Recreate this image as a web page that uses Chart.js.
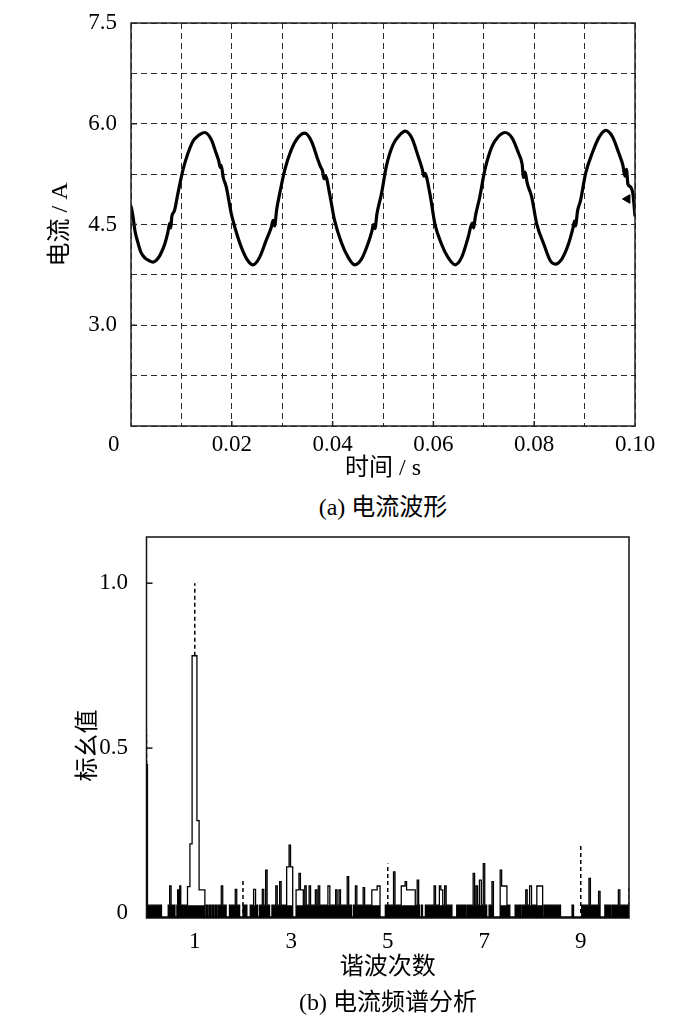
<!DOCTYPE html>
<html><head><meta charset="utf-8">
<script src="https://cdn.jsdelivr.net/npm/chart.js@4.4.1/dist/chart.umd.min.js"></script>
<style>
html,body{margin:0;padding:0;background:#fff;width:700px;height:1022px;overflow:hidden;}
#c1wrap{position:absolute;left:0;top:0;width:700px;height:490px;}
#c2wrap{position:absolute;left:0;top:520px;width:700px;height:470px;}
.cap{position:absolute;width:400px;text-align:center;font-size:24px;font-family:'Liberation Serif','Noto Sans CJK SC',serif;color:#000;line-height:28px;}
</style></head><body>
<div id="c1wrap"><canvas id="c1"></canvas></div>
<div class="cap" style="left:183px;top:493px;">(a) 电流波形</div>
<div id="c2wrap"><canvas id="c2"></canvas></div>
<div class="cap" style="left:188px;top:988px;">(b) 电流频谱分析</div>
<script>
// ---------- (a) current waveform ----------
const waveTime = [
 0.0000,0.0004,0.0008,0.0013,0.0020,0.0028,0.0034,0.0044,0.0054,0.0060,0.0067,0.0073,0.0077,0.0079,0.0081,0.0086,
 0.0093,0.0103,0.0113,0.0123,0.0133,0.0146,0.0159,0.0169,0.0174,0.0177,0.0179,0.0183,0.0189,0.0199,
 0.0206,0.0219,0.0232,0.0242,0.0255,0.0268,0.0278,0.0282,0.0285,0.0289,0.0295,0.0305,0.0318,0.0331,0.0345,
 0.0358,0.0371,0.0376,0.0380,0.0383,0.0386,0.0394,0.0404,0.0417,0.0431,0.0444,0.0457,0.0470,0.0478,0.0481,
 0.0484,0.0488,0.0497,0.0507,0.0520,0.0534,0.0544,0.0557,0.0570,0.0578,0.0581,0.0583,0.0593,0.0603,0.0616,
 0.0629,0.0643,0.0656,0.0669,0.0677,0.0680,0.0683,0.0692,0.0702,0.0716,0.0729,0.0742,0.0756,0.0769,0.0776,
 0.0779,0.0782,0.0786,0.0795,0.0805,0.0819,0.0832,0.0842,0.0855,0.0868,0.0877,0.0880,0.0882,0.0886,0.0892,
 0.0902,0.0915,0.0928,0.0942,0.0955,0.0968,0.0976,0.0980,0.0983,0.0986,0.0991,0.0996,0.1000
];
const waveCurrent = [
 4.78,4.62,4.40,4.25,4.08,4.00,3.97,3.94,4.00,4.08,4.21,4.38,4.52,4.45,4.62,4.70,
 4.96,5.31,5.56,5.74,5.82,5.87,5.77,5.56,5.45,5.35,5.38,5.20,5.06,4.66,
 4.46,4.16,3.96,3.90,4.01,4.26,4.45,4.56,4.48,4.72,4.96,5.31,5.61,5.79,5.86,
 5.74,5.46,5.36,5.30,5.18,5.22,4.96,4.56,4.24,4.01,3.90,3.98,4.21,4.40,4.50,
 4.44,4.66,4.96,5.38,5.69,5.84,5.89,5.79,5.51,5.32,5.22,5.26,4.96,4.51,4.21,
 4.01,3.90,4.01,4.31,4.52,4.45,4.61,4.91,5.31,5.66,5.81,5.87,5.79,5.56,5.40,
 5.20,5.28,5.12,4.91,4.51,4.21,3.96,3.91,3.99,4.21,4.45,4.55,4.48,4.70,4.86,
 5.26,5.56,5.79,5.90,5.81,5.56,5.38,5.22,5.32,5.10,5.06,4.95,4.62
];
const endMarkTime = [0.0985];
const endMarkCurrent = [4.88];
const waveTimeTicks  = [0,0.01,0.02,0.03,0.04,0.05,0.06,0.07,0.08,0.09,0.10];
const waveTimeLabels = ['0      ','','0.02','','0.04','','0.06','','0.08','','0.10'];
const waveCurrentTicks  = [1.5,2.25,3.0,3.75,4.5,5.25,6.0,6.75,7.5];
const waveCurrentLabels = ['','','3.0','','4.5','','6.0','','7.5'];

// ---------- (b) current spectrum ----------
const specStart = [
 0.00,0.02,0.31,0.45,0.48,0.51,0.59,0.63,0.645,0.67,0.69,0.71,0.74,0.76,0.85,0.90,0.945,1.045,1.09,
 1.21,1.24,1.27,1.30,1.33,1.36,1.39,1.42,1.45,1.48,1.55,1.58,1.65,1.72,1.84,1.87,1.93,
 2.00,2.08,2.15,2.22,2.26,2.30,2.34,2.40,2.43,2.47,2.50,2.55,2.60,2.68,2.71,2.76,2.79,2.88,2.905,2.955,2.985,
 3.03,3.10,3.16,3.19,3.25,3.28,3.31,3.37,3.40,3.50,3.53,3.56,3.59,3.76,3.80,3.92,3.95,3.99,
 4.02,4.16,4.19,4.25,4.29,4.33,4.36,4.49,4.52,4.67,4.78,4.84,4.95,
 5.12,5.15,5.28,5.36,5.39,5.57,5.61,5.64,5.66,5.70,5.72,5.78,5.96,5.99,
 6.07,6.10,6.14,6.18,6.21,6.33,6.43,6.61,6.64,6.77,6.80,6.83,6.86,6.90,6.94,6.98,
 7.01,7.05,7.10,7.16,7.19,7.33,7.36,7.47,7.53,7.64,7.75,7.78,7.86,7.89,7.94,7.98,
 8.09,8.21,8.24,8.58,8.82,8.85,
 9.02,9.17,9.20,9.37,9.40,9.50,9.63,9.66,9.78,9.81
];
const specLevel = [
 0.45,0.024,-0.012,0.024,0.082,0.024,-0.012,0.024,0.07,0.024,0.082,0.024,-0.012,0.024,0.08,0.21,0.78,0.28,0.07,
 -0.012,0.024,-0.012,0.024,-0.012,0.024,-0.012,0.024,-0.012,0.024,0.082,0.024,-0.012,0.024,0.072,0.024,-0.012,
 0.024,-0.012,0.024,0.072,0.024,-0.012,0.024,0.072,0.024,0.13,0.024,-0.012,0.024,0.082,0.024,0.095,0.024,-0.012,0.14,0.206,0.14,
 -0.012,0.07,0.12,0.07,0.024,0.082,0.024,0.082,0.024,0.07,0.024,0.082,0.024,0.082,0.024,0.07,0.024,0.07,
 0.024,0.11,0.024,-0.012,0.024,0.082,0.024,0.077,0.024,0.07,0.082,-0.012,0.024,
 0.125,0.024,0.082,0.095,0.07,0.024,0.10,0.024,-0.012,0.024,-0.012,0.024,0.082,0.024,
 0.082,0.07,0.024,0.082,0.024,-0.012,0.024,-0.012,0.024,0.12,0.024,0.082,0.024,0.10,0.024,0.15,
 0.024,-0.012,0.024,0.095,-0.012,0.13,0.082,0.024,-0.012,0.024,-0.012,0.024,0.07,0.024,0.082,0.024,
 0.082,-0.012,0.024,-0.012,0.024,-0.012,
 0.024,0.105,0.024,0.066,-0.012,0.024,-0.012,0.024,0.07,0.024
];
const specEnd = 10;
const bandTop = 0.024;
const markerOrder = [0, 1, 2, 5, 9, 10];
const markerBase  = [0.45, 0.78, 0, 0, 0, 0];
const markerTop   = [0.54, 1.0, 0.105, 0.15, 0.206, 0.08];
const specOrderTicks  = [1,3,5,7,9];
const specOrderLabels = ['1','3','5','7','9'];
const specValueTicks  = [0,0.5,1.0];
const specValueLabels = ['0','0.5','1.0'];

// ---------- shared ----------
const FONT = "'Liberation Serif','Noto Sans CJK SC',serif";
Chart.defaults.font.family = FONT;
Chart.defaults.color = '#000';

const framePlugin = {
  id: 'frame',
  afterDatasetsDraw(chart, args, opts) {
    const {ctx, chartArea: {left, top, right, bottom}} = chart;
    ctx.save();
    ctx.strokeStyle = opts.color || '#000';
    ctx.lineWidth = opts.width || 1.5;
    ctx.setLineDash([]);
    ctx.strokeRect(left, top, right - left, bottom - top);
    const xs = chart.scales.x, ys = chart.scales.y;
    (opts.xMarks || []).forEach(v => {
      const px = xs.getPixelForValue(v);
      ctx.beginPath(); ctx.moveTo(px, bottom); ctx.lineTo(px, bottom - 5); ctx.stroke();
    });
    (opts.yMarks || []).forEach(v => {
      const py = ys.getPixelForValue(v);
      ctx.beginPath(); ctx.moveTo(left, py); ctx.lineTo(left + 6, py); ctx.stroke();
    });
    ctx.restore();
  }
};

function setTicks(arr) { return scale => { scale.ticks = arr.map(v => ({value: v})); }; }

// ---------- chart (a) ----------
const wavePoints = waveTime.map((t, i) => ({x: t, y: waveCurrent[i]}));
const endPoints = endMarkTime.map((t, i) => ({x: t, y: endMarkCurrent[i]}));

new Chart(document.getElementById('c1'), {
  type: 'line',
  data: {
    datasets: [
      {type: 'scatter', data: endPoints, pointStyle: 'triangle', rotation: -90, pointRadius: 5,
       backgroundColor: '#000', borderColor: '#000', borderWidth: 1},
      {data: wavePoints, borderColor: '#000', borderWidth: 3.2, pointRadius: 0,
       cubicInterpolationMode: 'monotone', fill: false}
    ]
  },
  options: {
    responsive: true, maintainAspectRatio: false, animation: false,
    layout: {padding: {left: 0, right: 65, top: 23, bottom: 0}},
    plugins: {legend: {display: false}, tooltip: {enabled: false},
      frame: {color: '#222', width: 1.5, xMarks: [0.02,0.04,0.06,0.08], yMarks: [3.0,4.5,6.0]}},
    scales: {
      x: {
        type: 'linear', min: 0, max: 0.1,
        afterBuildTicks: setTicks(waveTimeTicks),
        afterFit: s => { s.height = 64; },
        ticks: {autoSkip: false, maxRotation: 0, padding: 5, font: {size: 23},
                callback: (v, i) => waveTimeLabels[i]},
        grid: {color: '#2a2a2a', lineWidth: 1, drawTicks: false},
        border: {display: false, dash: [6, 4]},
        title: {display: true, text: '时间 / s', font: {size: 24}, padding: {top: 0, bottom: 7}}
      },
      y: {
        type: 'linear', min: 1.5, max: 7.5,
        afterBuildTicks: setTicks(waveCurrentTicks),
        afterFit: s => { s.width = 131; },
        ticks: {autoSkip: false, padding: 0, font: {size: 23},
                callback: (v, i) => waveCurrentLabels[i]},
        grid: {color: '#2a2a2a', lineWidth: 1, drawTicks: true, tickLength: 14, tickColor: 'rgba(0,0,0,0)'},
        border: {display: false, dash: [6, 4]},
        title: {display: true, text: '电流 / A', font: {size: 24}, padding: {top: 46, bottom: 0}}
      }
    }
  },
  plugins: [framePlugin]
});

// ---------- chart (b) ----------
const specPoints = specStart.map((x, i) => ({x: x, y: specLevel[i]}));
specPoints.push({x: specEnd, y: specLevel[specLevel.length - 1]});
const bandPoints = specPoints.map(p => ({x: p.x, y: Math.min(p.y, bandTop)}));
const markerPoints = [];
markerOrder.forEach((x, i) => {
  markerPoints.push({x: x, y: markerBase[i]}, {x: x, y: markerTop[i]}, {x: x, y: null});
});

new Chart(document.getElementById('c2'), {
  type: 'line',
  data: {
    datasets: [
      {data: markerPoints, borderColor: '#000', borderWidth: 1.5, borderDash: [4, 3],
       pointRadius: 0, spanGaps: false, fill: false},
      {data: specPoints, borderColor: '#000', borderWidth: 1.3, pointRadius: 0,
       stepped: true, fill: false},
      {data: bandPoints, borderWidth: 0, borderColor: 'rgba(0,0,0,0)', backgroundColor: '#000',
       pointRadius: 0, stepped: true, fill: 'start'}
    ]
  },
  options: {
    responsive: true, maintainAspectRatio: false, animation: false,
    layout: {padding: {left: 0, right: 71, top: 17, bottom: 0}},
    plugins: {legend: {display: false}, tooltip: {enabled: false},
      frame: {color: '#111', width: 1.5, xMarks: [], yMarks: [0.5, 1.0]}},
    scales: {
      x: {
        type: 'linear', min: 0, max: 10,
        afterBuildTicks: setTicks(specOrderTicks),
        afterFit: s => { s.height = 72; },
        ticks: {autoSkip: false, maxRotation: 0, padding: 10, font: {size: 23},
                callback: (v, i) => specOrderLabels[i]},
        grid: {display: false, drawTicks: false},
        border: {display: false},
        title: {display: true, text: '谐波次数', font: {size: 24}, padding: {top: 0, bottom: 8}}
      },
      y: {
        type: 'linear', min: -0.015, max: 1.14,
        afterBuildTicks: setTicks(specValueTicks),
        afterFit: s => { s.width = 146.5; },
        ticks: {autoSkip: false, padding: 0, font: {size: 23},
                callback: (v, i) => specValueLabels[i]},
        grid: {display: true, drawOnChartArea: false, color: 'rgba(0,0,0,0)', drawTicks: true,
               tickLength: 18.5, tickColor: 'rgba(0,0,0,0)'},
        border: {display: false},
        title: {display: true, text: '标幺值\u3000  ', font: {size: 24}, padding: {top: 74, bottom: 0}}
      }
    }
  },
  plugins: [framePlugin]
});
</script>
</body></html>
